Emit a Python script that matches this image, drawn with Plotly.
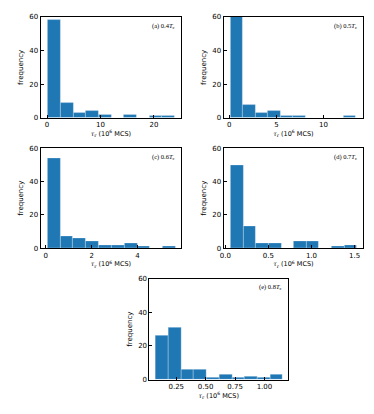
import plotly.graph_objects as go

# histogram data: first bin edge, bin width, counts
labels = ['(a) 0.4', '(b) 0.5', '(c) 0.6', '(d) 0.7', '(e) 0.8']
bin_start = [0.19, 0.105, 0.07, 0.06, 0.076]
bin_width = [2.37, 1.333, 0.56, 0.147, 0.108]
counts_a = [58, 9, 3, 4, 2, 0, 2, 0, 1, 1]
counts_b = [65, 8, 3, 4, 1, 1, 0, 0, 0, 1]
counts_c = [54, 7, 6, 4, 2, 2, 3, 1, 0, 1]
counts_d = [50, 13, 3, 3, 0, 4, 4, 0, 1, 2]
counts_e = [26, 31, 6, 6, 1, 3, 1, 2, 1, 3]
counts = [counts_a, counts_b, counts_c, counts_d, counts_e]
x_ticks = [[0, 10, 20], [0, 5, 10], [0, 2, 4], [0, 0.5, 1, 1.5], [0.25, 0.5, 0.75, 1]]
x_text = [['0', '10', '20'], ['0', '5', '10'], ['0', '2', '4'],
          ['0.0', '0.5', '1.0', '1.5'], ['0.25', '0.50', '0.75', '1.00']]
x_ranges = [[-1.2, 25.1], [-0.6, 14.2], [-0.22, 5.9], [-0.02, 1.6], [0.022, 1.2]]
y_ticks = [0, 20, 40, 60]

# the page body has an 8px margin, so the figure is 8px smaller than the window
OFF = 8
W, H = 374 - OFF, 414 - OFF
# axes boxes in window pixels: left, right, top, bottom
boxes = [
    (37, 179, 13, 116),
    (222, 363, 13, 116),
    (37, 179, 147, 249),
    (222, 363, 147, 249),
    (147, 287, 280, 383),
]

fig = go.Figure()
layout = {}
for i in range(5):
    n = '' if i == 0 else str(i + 1)
    x0 = bin_start[i]
    w = bin_width[i]
    xs = [x0 + w * (k + 0.5) for k in range(len(counts[i]))]
    fig.add_trace(go.Bar(x=xs, y=counts[i], width=w, marker_color='#1f77b4',
                         marker_line=dict(color='rgba(255,255,255,0.45)', width=0.6),
                         xaxis='x' + n, yaxis='y' + n, showlegend=False))
    l, r, t, b = [v - OFF for v in boxes[i]]
    layout['xaxis' + n] = dict(
        domain=[l / W, r / W], anchor='y' + n, range=x_ranges[i],
        tickvals=x_ticks[i], ticktext=x_text[i],
        ticks='inside', ticklen=3, tickwidth=1, tickcolor='black',
        showline=True, linecolor='black', linewidth=1, mirror=True,
        showgrid=False, zeroline=False, autotickangles=[0],
        tickfont=dict(family='DejaVu Sans', size=7, color='black'),
        title=dict(text='<span style="font-family:DejaVu Serif"><i>τ</i><sub>r</sub></span>'
                        ' (10<sup>6</sup> MCS)',
                   font=dict(family='DejaVu Sans', size=6.5, color='black'), standoff=1),
    )
    layout['yaxis' + n] = dict(
        domain=[1 - b / H, 1 - t / H], anchor='x' + n, range=[0, 60],
        tickvals=y_ticks,
        ticks='inside', ticklen=3, tickwidth=1, tickcolor='black',
        showline=True, linecolor='black', linewidth=1, mirror=True,
        showgrid=False, zeroline=False,
        tickfont=dict(family='DejaVu Sans', size=7, color='black'),
        title=dict(text='frequency', font=dict(family='DejaVu Sans', size=7, color='black'),
                   standoff=4),
    )
    fig.add_annotation(text=labels[i] + '<i>T</i><sub>c</sub>', xref='paper', yref='paper',
                       x=(r - 4) / W, y=1 - (t + 9) / H, xanchor='right', yanchor='middle',
                       showarrow=False,
                       font=dict(family='Liberation Serif', size=6.5, color='black'))

fig.update_layout(width=W, height=H, margin=dict(l=0, r=0, t=0, b=0),
                  paper_bgcolor='white', plot_bgcolor='white', bargap=0, **layout)
fig.write_html('out.html')
